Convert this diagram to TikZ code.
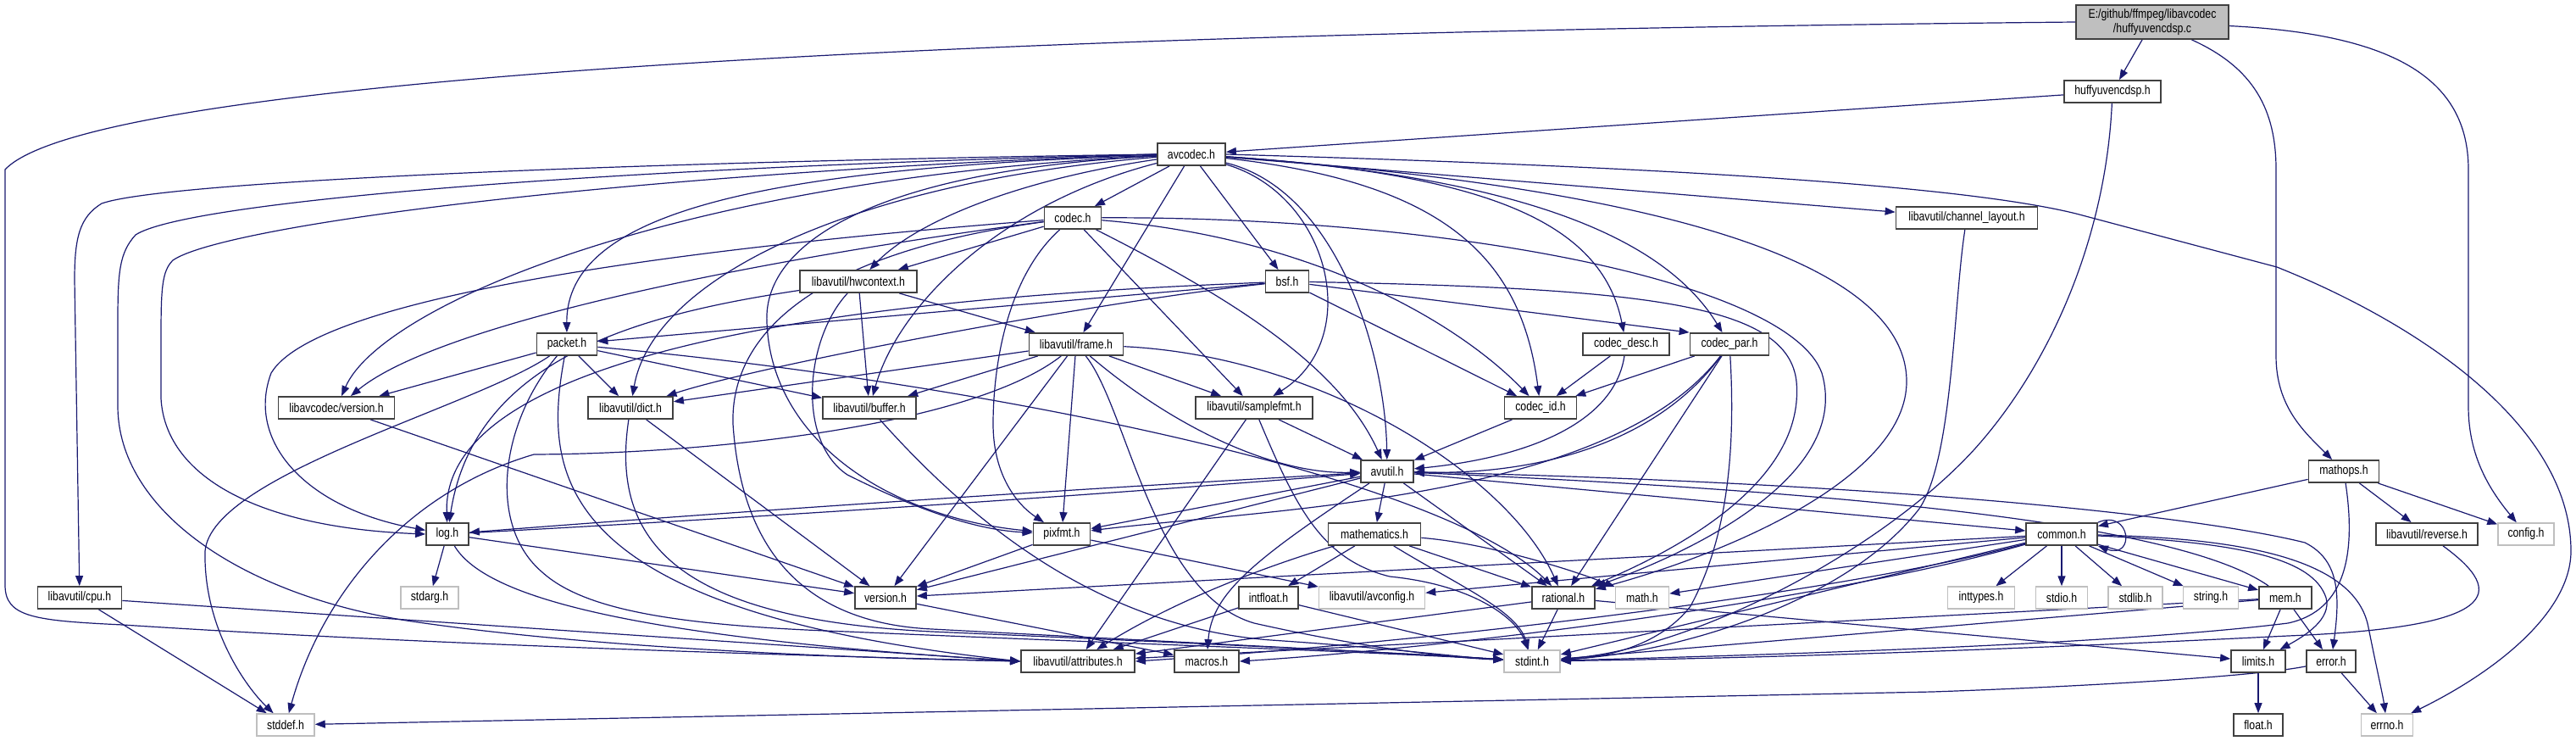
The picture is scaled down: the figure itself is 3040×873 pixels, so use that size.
\documentclass[tikz,border=0pt]{standalone}
\usepackage{fontspec}
\setmainfont{Liberation Sans}[FakeStretch=0.82]
\usetikzlibrary{arrows.meta, backgrounds}
\definecolor{edgeblue}{RGB}{25,25,112}
\definecolor{boxdark}{RGB}{64,64,64}
\definecolor{boxlight}{RGB}{191,191,191}
\tikzset{
  hdr/.style={rectangle, draw=boxdark, line width=1.8pt, fill=white,
    minimum height=26pt, inner sep=0pt, font=\fontsize{15}{17}\selectfont},
  syshdr/.style={hdr, draw=boxlight, line width=1.5pt},
  srchdr/.style={hdr, fill=boxlight, minimum height=40pt, align=center},
  inc/.style={draw=edgeblue, line width=1.2pt, -{Triangle[length=12pt,width=9pt]}},
}

\begin{document}
\begin{tikzpicture}[x=1pt, y=-1pt]
  \useasboundingbox (0,0) rectangle (3040,873);

  % Source file and first levels
  \node[srchdr, minimum width=180pt] (T) at (2540,26) {E:/github/ffmpeg/libavcodec\\/huffyuvencdsp.c};
  \node[hdr, minimum width=114pt] (hdsp) at (2493,108) {huffyuvencdsp.h};
  \node[hdr, minimum width=80pt] (avcodec) at (1406,182) {avcodec.h};
  \node[hdr, minimum width=67pt] (codec) at (1266,257) {codec.h};
  \node[hdr, minimum width=167pt] (chlayout) at (2321,257) {libavutil/channel\_layout.h};
  \node[hdr, minimum width=138pt] (hwctx) at (1013,332) {libavutil/hwcontext.h};
  \node[hdr, minimum width=51pt] (bsf) at (1519,332) {bsf.h};
  \node[hdr, minimum width=71pt] (packet) at (669,406) {packet.h};
  \node[hdr, minimum width=111pt] (frame) at (1270,406) {libavutil/frame.h};
  \node[hdr, minimum width=102pt] (cdesc) at (1919,406) {codec\_desc.h};
  \node[hdr, minimum width=93pt] (cpar) at (2041,406) {codec\_par.h};
  \node[hdr, minimum width=137pt] (lavcver) at (397,481) {libavcodec/version.h};
  \node[hdr, minimum width=100pt] (dict) at (744,481) {libavutil/dict.h};
  \node[hdr, minimum width=110pt] (buffer) at (1026,481) {libavutil/buffer.h};
  \node[hdr, minimum width=138pt] (samplefmt) at (1480,481) {libavutil/samplefmt.h};
  \node[hdr, minimum width=85pt] (codecid) at (1818,481) {codec\_id.h};
  \node[hdr, minimum width=62pt] (avutil) at (1637,556) {avutil.h};
  \node[hdr, minimum width=83pt] (mathops) at (2766,556) {mathops.h};

  % libavutil level
  \node[hdr, minimum width=50pt] (log) at (528,630) {log.h};
  \node[hdr, minimum width=67pt] (pixfmt) at (1253,630) {pixfmt.h};
  \node[hdr, minimum width=109pt] (mathematics) at (1622,630) {mathematics.h};
  \node[hdr, minimum width=84pt] (common) at (2433,630) {common.h};
  \node[hdr, minimum width=120pt] (reverse) at (2864,630) {libavutil/reverse.h};
  \node[syshdr, minimum width=66pt] (config) at (2981,630) {config.h};
  \node[hdr, minimum width=99pt] (cpu) at (94,705) {libavutil/cpu.h};
  \node[syshdr, minimum width=68pt] (stdarg) at (507,705) {stdarg.h};
  \node[hdr, minimum width=72pt] (version) at (1045,705) {version.h};
  \node[hdr, minimum width=70pt] (intfloat) at (1497,705) {intfloat.h};
  \node[syshdr, minimum width=125pt] (avconfig) at (1619,705) {libavutil/avconfig.h};
  \node[hdr, minimum width=74pt] (rational) at (1845,705) {rational.h};
  \node[syshdr, minimum width=63pt] (math) at (1938,705) {math.h};
  \node[syshdr, minimum width=79pt] (inttypes) at (2338,705) {inttypes.h};
  \node[syshdr, minimum width=61pt] (stdio) at (2433,705) {stdio.h};
  \node[syshdr, minimum width=64pt] (stdlib) at (2520,705) {stdlib.h};
  \node[syshdr, minimum width=65pt] (string) at (2609,705) {string.h};
  \node[hdr, minimum width=62pt] (mem) at (2697,705) {mem.h};
  \node[hdr, minimum width=134pt] (attributes) at (1272,780) {libavutil/attributes.h};
  \node[hdr, minimum width=76pt] (macros) at (1424,780) {macros.h};
  \node[syshdr, minimum width=66pt] (stdint) at (1808,780) {stdint.h};
  \node[hdr, minimum width=64pt] (limits) at (2665,780) {limits.h};
  \node[hdr, minimum width=58pt] (error) at (2751,780) {error.h};
  \node[syshdr, minimum width=68pt] (stddef) at (337,855) {stddef.h};
  \node[hdr, minimum width=58pt] (float) at (2665,855) {float.h};
  \node[syshdr, minimum width=61pt] (errno) at (2817,855) {errno.h};

  \begin{scope}[on background layer]
    \fill[white] (0,0) rectangle (3040,873);

    % huffyuvencdsp.c
    \draw[inc] (T) -- (hdsp);
    \draw[inc] (T.west) .. controls (1000,40) and (100,100) .. (6,200) -- (6,690)
      .. controls (6,728) and (40,732) .. (145,737) .. controls (500,760) and (900,772) .. (attributes.west);
    \draw[inc] (T) .. controls (2660,80) and (2686,130) .. (2686,200) -- (2686,420)
      .. controls (2686,480) and (2720,510) .. (mathops);
    \draw[inc] (T) .. controls (2820,40) and (2913,90) .. (2913,200) -- (2913,480)
      .. controls (2913,540) and (2940,580) .. (config);

    % huffyuvencdsp.h, channel_layout.h
    \draw[inc] (hdsp) -- (avcodec);
    \draw[inc] (hdsp) .. controls (2485,280) and (2420,430) .. (2330,530)
      .. controls (2220,650) and (2000,765) .. (stdint);
    \draw[inc] (chlayout) .. controls (2305,360) and (2305,540) .. (2265,600)
      .. controls (2180,710) and (1980,770) .. (stdint);

    % avcodec.h
    \draw[inc] (avcodec) -- (codec);
    \draw[inc] (avcodec) .. controls (1200,212) and (1080,262) .. (hwctx);
    \draw[inc] (avcodec) -- (frame);
    \draw[inc] (avcodec) -- (bsf);
    \draw[inc] (avcodec) -- (chlayout);
    \draw[inc] (avcodec) .. controls (1750,205) and (1890,260) .. (cdesc);
    \draw[inc] (avcodec) .. controls (1820,210) and (1970,290) .. (cpar);
    \draw[inc] (avcodec) .. controls (1700,215) and (1795,300) .. (codecid);
    \draw[inc] (avcodec) .. controls (2000,225) and (2250,320) .. (2250,450)
      .. controls (2250,560) and (2050,650) .. (rational);
    \draw[inc] (avcodec.east) .. controls (1900,195) and (2300,215) .. (2450,252) -- (2687,315)
      .. controls (2850,380) and (3034,500) .. (3034,650) .. controls (3034,720) and (2950,790) .. (errno);
    \draw[inc] (avcodec) .. controls (1570,230) and (1610,400) .. (samplefmt);
    \draw[inc] (avcodec) .. controls (1580,225) and (1635,420) .. (avutil);
    \draw[inc] (avcodec) .. controls (1180,240) and (1060,360) .. (buffer);
    \draw[inc] (avcodec) .. controls (1000,215) and (770,330) .. (dict);
    \draw[inc] (avcodec) .. controls (900,198) and (668,250) .. (packet);
    \draw[inc] (avcodec) .. controls (800,210) and (450,360) .. (lavcver);
    \draw[inc] (avcodec) .. controls (1050,200) and (900,280) .. (905,380)
      .. controls (910,520) and (1050,610) .. (pixfmt);
    \draw[inc] (avcodec.west) .. controls (800,190) and (200,212) .. (120,240)
      .. controls (94,256) and (88,280) .. (88,330) -- (cpu);
    \draw[inc] (avcodec.west) .. controls (700,198) and (220,238) .. (160,277)
      .. controls (141,298) and (139,320) .. (139,380) -- (139,480)
      .. controls (140,600) and (280,700) .. (480,732) .. controls (700,765) and (1000,776) .. (attributes.west);
    \draw[inc] (avcodec.west) .. controls (700,206) and (260,268) .. (204,307)
      .. controls (191,320) and (190,340) .. (190,400) -- (190,470)
      .. controls (195,560) and (300,622) .. (log.west);

    % codec.h
    \draw[inc] (codec) -- (hwctx);
    \draw[inc] (codec) .. controls (1450,350) and (1580,430) .. (avutil);
    \draw[inc] (codec) -- (samplefmt);
    \draw[inc] (codec) .. controls (1550,280) and (1720,380) .. (codecid);
    \draw[inc] (codec) .. controls (1700,255) and (2110,330) .. (2150,440)
      .. controls (2185,560) and (2000,650) .. (rational);
    \draw[inc] (codec) .. controls (1185,330) and (1172,440) .. (1172,500)
      .. controls (1172,560) and (1200,595) .. (pixfmt);
    \draw[inc] (codec) .. controls (950,300) and (862,400) .. (865,500)
      .. controls (875,650) and (950,735) .. (1100,742) .. controls (1400,758) and (1650,770) .. (stdint);
    \draw[inc] (codec) .. controls (900,285) and (380,340) .. (320,440)
      .. controls (290,520) and (360,600) .. (log);
    \draw[inc] (codec) .. controls (900,305) and (520,380) .. (lavcver);

    % hwcontext.h, bsf.h
    \draw[inc] (hwctx) -- (buffer);
    \draw[inc] (hwctx) -- (frame);
    \draw[inc] (hwctx) .. controls (760,370) and (560,420) .. (log);
    \draw[inc] (hwctx) .. controls (950,400) and (940,520) .. (1000,560)
      .. controls (1080,600) and (1150,625) .. (pixfmt);
    \draw[inc] (bsf) .. controls (1300,355) and (900,430) .. (dict);
    \draw[inc] (bsf) .. controls (1200,345) and (520,380) .. (log);
    \draw[inc] (bsf) .. controls (1950,340) and (2110,360) .. (2120,450)
      .. controls (2130,560) and (2000,640) .. (rational);
    \draw[inc] (bsf) -- (codecid);
    \draw[inc] (bsf) -- (cpar.north west);
    \draw[inc] (bsf) -- (packet);

    % frame.h
    \draw[inc] (frame) .. controls (1150,500) and (850,535) .. (630,536)
      .. controls (480,580) and (380,700) .. (stddef);
    \draw[inc] (frame) .. controls (1330,480) and (1360,700) .. (1480,735)
      .. controls (1600,762) and (1700,775) .. (stdint);
    \draw[inc] (frame) .. controls (1380,500) and (1500,560) .. (avutil);
    \draw[inc] (frame) -- (buffer);
    \draw[inc] (frame) -- (dict);
    \draw[inc] (frame) .. controls (1560,420) and (1780,560) .. (rational);
    \draw[inc] (frame) -- (samplefmt);
    \draw[inc] (frame) -- (pixfmt);
    \draw[inc] (frame) -- (version);

    % codec_desc.h, codec_par.h
    \draw[inc] (cdesc) .. controls (1905,500) and (1800,540) .. (avutil);
    \draw[inc] (cdesc) -- (codecid);
    \draw[inc] (cpar) -- (codecid);
    \draw[inc] (cpar) .. controls (1950,530) and (1800,560) .. (avutil);
    \draw[inc] (cpar) -- (rational);
    \draw[inc] (cpar) .. controls (2050,560) and (2030,650) .. (1995,715)
      .. controls (1960,760) and (1900,775) .. (stdint);
    \draw[inc] (cpar) .. controls (1900,590) and (1500,600) .. (pixfmt);

    % packet.h
    \draw[inc] (packet) .. controls (560,480) and (250,560) .. (242,650)
      .. controls (240,740) and (290,810) .. (stddef);
    \draw[inc] (packet) .. controls (590,500) and (575,620) .. (640,675)
      .. controls (690,720) and (800,738) .. (1000,745) .. controls (1300,758) and (1600,768) .. (stdint);
    \draw[inc] (packet) .. controls (640,560) and (650,720) .. (attributes.west);
    \draw[inc] (packet) -- (buffer);
    \draw[inc] (packet) -- (dict);
    \draw[inc] (packet) .. controls (1150,450) and (1700,560) .. (rational);
    \draw[inc] (packet) -- (lavcver);

    % version.h, dict.h, buffer.h, samplefmt.h, codec_id.h
    \draw[inc] (lavcver) -- (version);
    \draw[inc] (dict) -- (version);
    \draw[inc] (dict) .. controls (720,640) and (800,730) .. (1100,745)
      .. controls (1400,758) and (1650,770) .. (stdint);
    \draw[inc] (buffer) .. controls (1150,620) and (1300,740) .. (1500,755)
      .. controls (1650,765) and (1720,775) .. (stdint);
    \draw[inc] (samplefmt) -- (avutil);
    \draw[inc] (samplefmt) -- (attributes);
    \draw[inc] (samplefmt) .. controls (1530,600) and (1560,660) .. (1640,680)
      .. controls (1740,690) and (1790,730) .. (stdint);
    \draw[inc] (codecid) -- (avutil);

    % avutil.h
    \draw[inc] (avutil) -- (common);
    \draw[inc] (avutil) .. controls (2250,570) and (2600,610) .. (2720,640)
      .. controls (2760,660) and (2762,700) .. (error);
    \draw[inc] (avutil) -- (rational);
    \draw[inc] (avutil) -- (mathematics);
    \draw[inc] (avutil) .. controls (1480,660) and (1430,700) .. (macros);
    \draw[inc] (avutil) -- (version);
    \draw[inc] (avutil) -- (pixfmt);
    \draw[inc] (avutil) .. controls (1267,577) and (898,601) .. (log);
    \draw[inc] (log) .. controls (898,610) and (1267,586) .. (avutil);

    % log.h, pixfmt.h, mathematics.h
    \draw[inc] (log) -- (stdarg);
    \draw[inc] (log) -- (version);
    \draw[inc] (log) .. controls (570,700) and (720,750) .. (attributes.west);
    \draw[inc] (pixfmt) -- (version);
    \draw[inc] (pixfmt) -- (avconfig);
    \draw[inc] (mathematics) -- (intfloat);
    \draw[inc] (mathematics) -- (rational);
    \draw[inc] (mathematics) .. controls (1750,640) and (1850,670) .. (math);
    \draw[inc] (mathematics) .. controls (1520,660) and (1400,700) .. (attributes);
    \draw[inc] (mathematics) .. controls (1720,690) and (1790,720) .. (stdint);

    % common.h
    \draw[inc] (common) -- (inttypes);
    \draw[inc] (common) -- (stdio);
    \draw[inc] (common) -- (stdlib);
    \draw[inc] (common) -- (string);
    \draw[inc] (common) -- (mem);
    \draw[inc] (common.north east) .. controls (2515,600) and (2520,660) .. (common.south east);
    \draw[inc] (common) -- (version);
    \draw[inc] (common) -- (math);
    \draw[inc] (common) -- (avconfig);
    \draw[inc] (common) -- (stdint);
    \draw[inc] (common) .. controls (2150,705) and (1650,760) .. (attributes.east);
    \draw[inc] (common) .. controls (2150,710) and (1700,765) .. (macros.east);
    \draw[inc] (common) .. controls (2650,635) and (2780,660) .. (2795,740)
      .. controls (2805,790) and (2812,820) .. (errno);
    \draw[inc] (common) .. controls (2650,640) and (2730,660) .. (2745,705)
      .. controls (2752,730) and (2720,750) .. (limits);

    % mathops.h, reverse.h
    \draw[inc] (mathops) -- (common);
    \draw[inc] (mathops) -- (reverse);
    \draw[inc] (mathops) -- (config);
    \draw[inc] (mathops) .. controls (2780,650) and (2770,720) .. (2700,735)
      .. controls (2500,760) and (2100,772) .. (stdint);
    \draw[inc] (reverse) .. controls (2960,700) and (2950,740) .. (2700,750)
      .. controls (2400,765) and (2100,776) .. (stdint);

    % intfloat.h, rational.h, mem.h
    \draw[inc] (intfloat) -- (attributes);
    \draw[inc] (intfloat) -- (stdint);
    \draw[inc] (rational) -- (stdint);
    \draw[inc] (rational) -- (attributes);
    \draw[inc] (rational) -- (limits);
    \draw[inc] (mem) -- (limits);
    \draw[inc] (mem) -- (error);
    \draw[inc] (mem) .. controls (2590,630) and (2300,585) .. (avutil);
    \draw[inc] (mem) -- (attributes);
    \draw[inc] (mem) -- (stdint);

    % error.h, limits.h, cpu.h, version.h
    \draw[inc] (error) -- (errno);
    \draw[inc] (error) .. controls (2650,800) and (2400,812) .. (2280,816) -- (stddef);
    \draw[inc] (limits) -- (float);
    \draw[inc] (cpu) -- (stddef);
    \draw[inc] (cpu) -- (attributes.west);
    \draw[inc] (version) -- (macros);
  \end{scope}
\end{tikzpicture}
\end{document}
